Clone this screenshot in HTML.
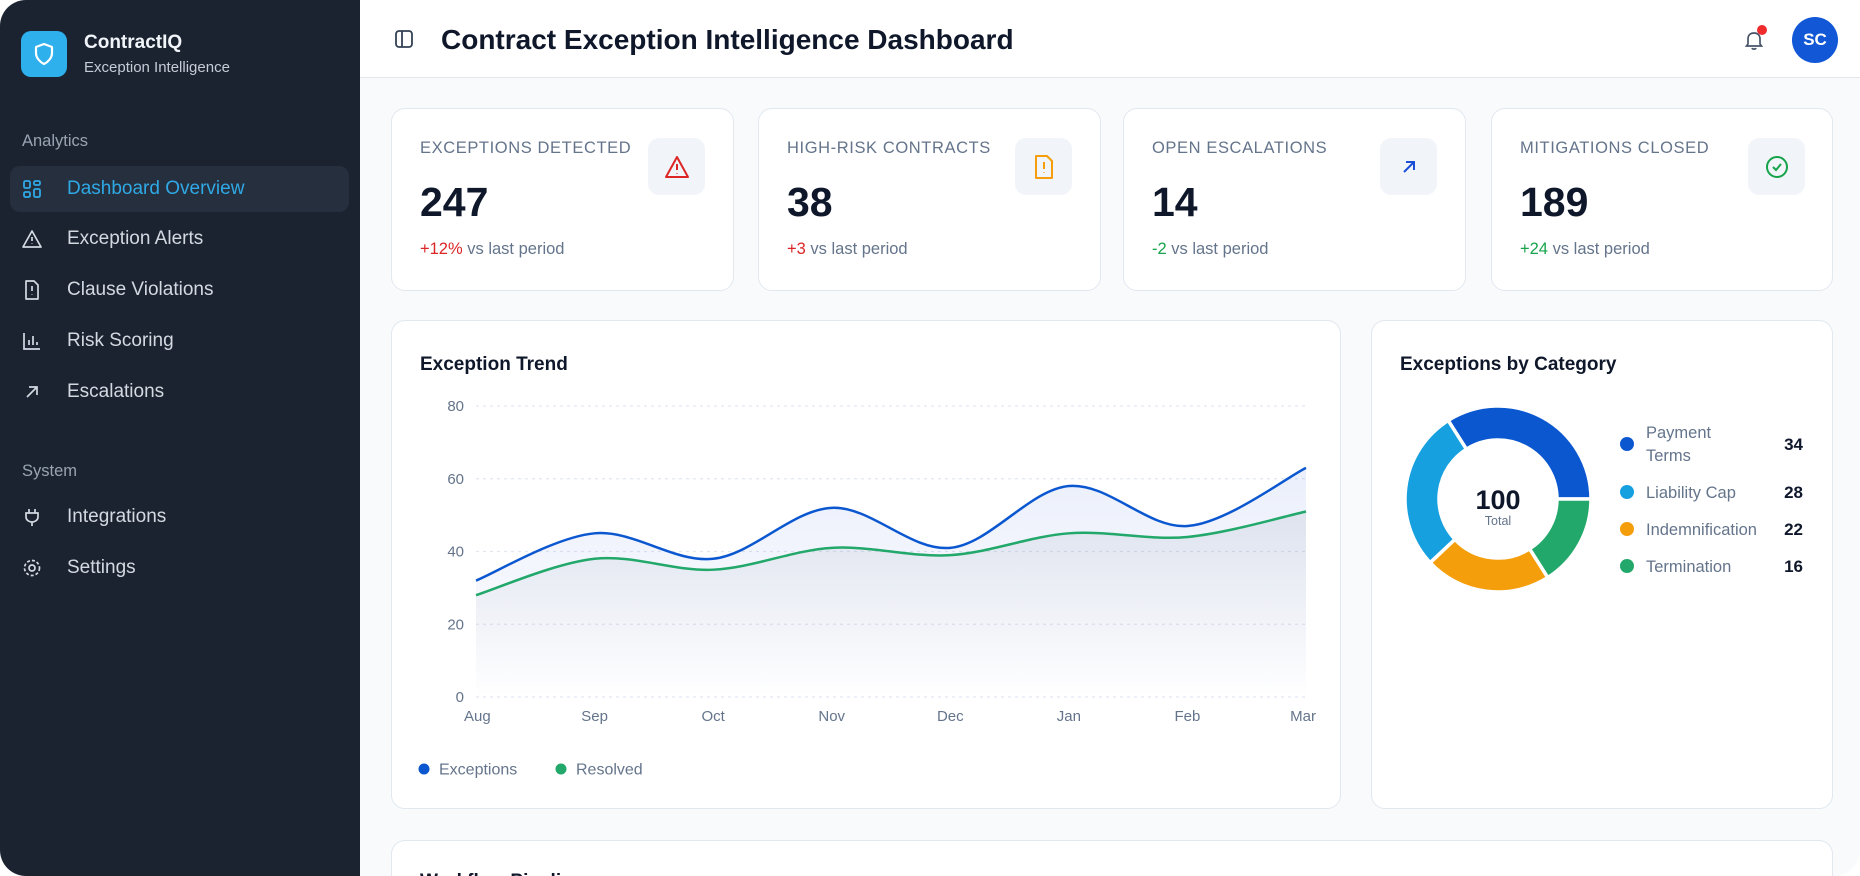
<!DOCTYPE html>
<html><head><meta charset="utf-8">
<style>
*{box-sizing:border-box;margin:0;padding:0}
body{width:1860px;height:876px;background:#fff;font-family:"Liberation Sans",sans-serif;overflow:hidden;position:relative}
#frame{position:absolute;left:0;top:0;width:1860px;height:876px;border-radius:26px;overflow:hidden;background:#f8fafc}
#side{position:absolute;left:0;top:0;width:360px;height:876px;background:#1b2330}
.abs{position:absolute}
.nav{position:absolute;left:10px;width:339px;height:46px;border-radius:10px;color:#d4d9e1;font-size:19px;display:flex;align-items:center;padding-left:57px}
.nav svg{position:absolute;left:12px;top:13px}
.sec{position:absolute;left:22px;color:#9aa3b2;font-size:16.5px}
#header{position:absolute;left:360px;top:0;width:1500px;height:78px;background:#fff;border-bottom:1px solid #e5e7eb}
.card{position:absolute;background:#fff;border:1px solid #e2e8f0;border-radius:14px}
.klabel{position:absolute;left:28px;top:30px;font-size:16.5px;color:#64748b;letter-spacing:0.6px}
.kval{position:absolute;left:28px;top:70px;font-size:41px;font-weight:bold;color:#0f172a}
.ksub{position:absolute;left:28px;top:131px;font-size:16.5px;color:#64748b}
.kicon{position:absolute;left:256px;top:29px;width:57px;height:57px;border-radius:11px;background:#f1f5f9;display:flex;align-items:center;justify-content:center}
.ctitle{position:absolute;left:28px;top:33px;font-size:19px;font-weight:bold;color:#0f172a}
</style></head><body>
<div id="frame">
<div id="side">
  <div class="abs" style="left:21px;top:31px;width:46px;height:46px;border-radius:10px;background:#2eb0ec;display:flex;align-items:center;justify-content:center">
    <svg width="22" height="24" viewBox="0 0 22 24"><path d="M11 2 L19 5 V11 C19 16 15 20 11 22 C7 20 3 16 3 11 V5 Z" fill="none" stroke="#fff" stroke-width="2.2" stroke-linejoin="round"/></svg>
  </div>
  <div class="abs" style="left:84px;top:32px;font-size:19px;font-weight:bold;color:#f1f5f9">ContractIQ</div>
  <div class="abs" style="left:84px;top:59px;font-size:15px;color:#c5ccd6">Exception Intelligence</div>
  <div class="sec" style="top:132px">Analytics</div>
  <div class="nav" style="top:166px;background:#262f3d;color:#2fa9e6">
    <svg width="20" height="20" viewBox="0 0 20 20" fill="none" stroke="#2fa9e6" stroke-width="1.8"><rect x="2" y="2" width="6" height="7" rx="1.5"/><rect x="12" y="2" width="6" height="4" rx="1.5"/><rect x="12" y="10" width="6" height="8" rx="1.5"/><rect x="2" y="13" width="6" height="5" rx="1.5"/></svg>Dashboard Overview</div>
  <div class="nav" style="top:216px">
    <svg width="20" height="20" viewBox="0 0 20 20" fill="none" stroke="#d4d9e1" stroke-width="1.7"><path d="M10 2 L19 18 H1 Z" stroke-linejoin="round"/><path d="M10 8 V12 M10 14.5 V15"/></svg>Exception Alerts</div>
  <div class="nav" style="top:267px">
    <svg width="20" height="20" viewBox="0 0 20 20" fill="none" stroke="#d4d9e1" stroke-width="1.7"><path d="M4 1 H12 L16 5 V19 H4 Z" stroke-linejoin="round"/><path d="M10 6 V11 M10 14 V14.5"/></svg>Clause Violations</div>
  <div class="nav" style="top:318px">
    <svg width="20" height="20" viewBox="0 0 20 20" fill="none" stroke="#d4d9e1" stroke-width="1.7"><path d="M2 2 V18 H18 M7 14 V9 M11 14 V5 M15 14 V11"/></svg>Risk Scoring</div>
  <div class="nav" style="top:369px">
    <svg width="20" height="20" viewBox="0 0 20 20" fill="none" stroke="#d4d9e1" stroke-width="1.7"><path d="M5 15 L15 5 M7 5 H15 V13"/></svg>Escalations</div>
  <div class="sec" style="top:462px">System</div>
  <div class="nav" style="top:494px">
    <svg width="20" height="20" viewBox="0 0 20 20" fill="none" stroke="#d4d9e1" stroke-width="1.7"><path d="M7 2 V6 M13 2 V6 M4 6 H16 V10 C16 13 13 15 10 15 C7 15 4 13 4 10 Z M10 15 V19"/></svg>Integrations</div>
  <div class="nav" style="top:545px">
    <svg width="20" height="20" viewBox="0 0 20 20" fill="none" stroke="#d4d9e1" stroke-width="1.7"><circle cx="10" cy="10" r="3"/><circle cx="10" cy="10" r="7.5" stroke-dasharray="3 2"/></svg>Settings</div>
</div>

<div id="header">
  <svg class="abs" style="left:34px;top:29px" width="20" height="20" viewBox="0 0 20 20" fill="none" stroke="#334155" stroke-width="1.8"><rect x="2" y="2" width="16" height="16" rx="3"/><path d="M8 2 V18"/></svg>
  <div class="abs" style="left:81px;top:24px;font-size:28px;font-weight:bold;color:#0f172a">Contract Exception Intelligence Dashboard</div>
  <svg class="abs" style="left:1383px;top:29px" width="22" height="22" viewBox="0 0 22 22" fill="none" stroke="#475569" stroke-width="1.7"><path d="M5 15 V10 C5 6 7.5 4 11 4 C14.5 4 17 6 17 10 V15 L18.5 17 H3.5 Z M9 19 C9.5 20.5 12.5 20.5 13 19"/></svg>
  <div class="abs" style="left:1397px;top:25px;width:10px;height:10px;border-radius:50%;background:#ef2b2b"></div>
  <div class="abs" style="left:1432px;top:17px;width:46px;height:46px;border-radius:50%;background:#1257d6;color:#fff;font-size:17px;font-weight:bold;display:flex;align-items:center;justify-content:center">SC</div>
</div>

<div class="card" style="left:391px;top:108px;width:343px;height:183px">
  <div class="klabel">EXCEPTIONS DETECTED</div><div class="kval">247</div>
  <div class="ksub"><span style="color:#dc2626">+12%</span> vs last period</div>
  <div class="kicon"><svg width="26" height="24" viewBox="0 0 26 24" fill="none" stroke="#dc2626" stroke-width="2"><path d="M13 2 L24 22 H2 Z" stroke-linejoin="round"/><path d="M13 9 V15 M13 18 V18.5"/></svg></div>
</div>
<div class="card" style="left:758px;top:108px;width:343px;height:183px">
  <div class="klabel">HIGH-RISK CONTRACTS</div><div class="kval">38</div>
  <div class="ksub"><span style="color:#dc2626">+3</span> vs last period</div>
  <div class="kicon"><svg width="22" height="26" viewBox="0 0 22 26" fill="none" stroke="#f59e0b" stroke-width="2"><path d="M3 2 H14 L19 7 V24 H3 Z" stroke-linejoin="round"/><path d="M11 8 V15 M11 18 V18.5"/></svg></div>
</div>
<div class="card" style="left:1123px;top:108px;width:343px;height:183px">
  <div class="klabel">OPEN ESCALATIONS</div><div class="kval">14</div>
  <div class="ksub"><span style="color:#16a34a">-2</span> vs last period</div>
  <div class="kicon"><svg width="20" height="20" viewBox="0 0 20 20" fill="none" stroke="#1d4ed8" stroke-width="2"><path d="M5 15 L15 5 M7 5 H15 V13"/></svg></div>
</div>
<div class="card" style="left:1491px;top:108px;width:342px;height:183px">
  <div class="klabel">MITIGATIONS CLOSED</div><div class="kval">189</div>
  <div class="ksub"><span style="color:#16a34a">+24</span> vs last period</div>
  <div class="kicon"><svg width="26" height="26" viewBox="0 0 26 26" fill="none" stroke="#16a34a" stroke-width="2"><circle cx="13" cy="13" r="10"/><path d="M9 13 L12 16 L17 10"/></svg></div>
</div>

<div class="card" style="left:391px;top:320px;width:950px;height:489px">
  <div class="ctitle">Exception Trend</div>
</div>
<svg id="trend" class="abs" style="left:0;top:0" width="1860" height="876"></svg>

<div class="card" style="left:1371px;top:320px;width:462px;height:489px">
  <div class="ctitle">Exceptions by Category</div>
</div>
<svg id="donut" class="abs" style="left:0;top:0" width="1860" height="876"></svg>

<div class="card" style="left:391px;top:840px;width:1442px;height:36px;overflow:hidden;border-bottom:none;border-radius:14px 14px 0 0">
  <div class="ctitle" style="top:30px">Workflow Pipeline</div>
</div>
</div>

<script>
const months=["Aug","Sep","Oct","Nov","Dec","Jan","Feb","Mar"];
const exceptionsVals=[32,45,38,52,41,58,47,63];
const resolvedVals=[28,38,35,41,39,45,44,51];
const yTicks=[0,20,40,60,80];
const categories=["Payment Terms","Liability Cap","Indemnification","Termination"];
const categoryVals=[34,28,22,16];
const categoryColors=["#0b57d0","#16a0e0","#f59e0b","#22a86a"];

const NS="http://www.w3.org/2000/svg";
function mk(tag,attrs,parent){const e=document.createElementNS(NS,tag);for(const k in attrs)e.setAttribute(k,attrs[k]);parent.appendChild(e);return e;}
const tr=document.getElementById('trend');
const x0=476,x1=1306,yTop=406,yBot=697,yMax=80;
const xs=i=>x0+(x1-x0)*i/(months.length-1);
const ys=v=>yBot-(yBot-yTop)*v/yMax;
const defs=mk('defs',{},tr);
const g1=mk('linearGradient',{id:'gE',x1:0,y1:0,x2:0,y2:1},defs);
mk('stop',{offset:'0','stop-color':'#1d4ed8','stop-opacity':'0.09'},g1);mk('stop',{offset:'1','stop-color':'#1d4ed8','stop-opacity':'0'},g1);
const g2=mk('linearGradient',{id:'gR',x1:0,y1:0,x2:0,y2:1},defs);
mk('stop',{offset:'0','stop-color':'#64748b','stop-opacity':'0.12'},g2);mk('stop',{offset:'1','stop-color':'#64748b','stop-opacity':'0'},g2);
yTicks.forEach(t=>{
  const l=mk('line',{x1:x0,x2:x1,y1:ys(t),y2:ys(t),stroke:'#e2e8f0','stroke-dasharray':'3 4','stroke-width':1.2},tr);
  
  
  const tx=mk('text',{x:x0-12,y:ys(t)+5,'text-anchor':'end','font-size':15,fill:'#64748b'},tr);tx.textContent=t;
  
  
});
months.forEach((m,i)=>{
  const tx=mk('text',{x:xs(i),y:721,'text-anchor':i==months.length-1?'end':(i==0?'start':'middle'),'font-size':15,fill:'#64748b'},tr);
  if(i==0)tx.setAttribute('x',xs(i)-12);
  if(i==months.length-1)tx.setAttribute('x',xs(i)+10);
  tx.textContent=m;
  
  
});
function curve(vals){
  const p=vals.map((v,i)=>[xs(i),ys(v)]);
  let d=`M${p[0][0]},${p[0][1]}`;
  for(let i=0;i<p.length-1;i++){
    const a=p[Math.max(0,i-1)],b=p[i],c=p[i+1],e=p[Math.min(p.length-1,i+2)];
    const c1=[b[0]+(c[0]-a[0])/6,b[1]+(c[1]-a[1])/6],c2=[c[0]-(e[0]-b[0])/6,c[1]-(e[1]-b[1])/6];
    d+=` C${c1[0]},${c1[1]} ${c2[0]},${c2[1]} ${c[0]},${c[1]}`;
  }
  return d;
}
const ae=mk('path',{d:curve(exceptionsVals)+` L${x1},${yBot} L${x0},${yBot} Z`,fill:'url(#gE)'},tr);


const ar=mk('path',{d:curve(resolvedVals)+` L${x1},${yBot} L${x0},${yBot} Z`,fill:'url(#gR)'},tr);


const le=mk('path',{d:curve(exceptionsVals),fill:'none',stroke:'#0b57d0','stroke-width':2.5},tr);


const lr=mk('path',{d:curve(resolvedVals),fill:'none',stroke:'#22a86a','stroke-width':2.5},tr);


[["Exceptions","#0b57d0",424],["Resolved","#22a86a",561]].forEach(([n,c,x])=>{
  const g=mk('g',{},tr);
  
  
  mk('circle',{cx:x,cy:769,r:5.5,fill:c},g);
  const t=mk('text',{x:x+15,y:774.5,'font-size':16,fill:'#64748b'},g);t.textContent=n;
});

const dn=document.getElementById('donut');
const cx=1498,cy=499,R=93,r=59;
const total=categoryVals.reduce((a,b)=>a+b,0);
let ang=0;
function pt(rad,a){return [cx+rad*Math.cos(a),cy+rad*Math.sin(a)];}
categoryVals.forEach((v,i)=>{
  const sweep=v/total*2*Math.PI;
  const a0=ang,a1=ang-sweep;
  const large=sweep>Math.PI?1:0;
  const p0=pt(R,a0),p1=pt(R,a1),p2=pt(r,a1),p3=pt(r,a0);
  const s=mk('path',{d:`M${p0} A${R},${R} 0 ${large} 0 ${p1} L${p2} A${r},${r} 0 ${large} 1 ${p3} Z`,fill:categoryColors[i],stroke:'#fff','stroke-width':3.5,'stroke-linejoin':'round'},dn);
  
  
  ang=a1;
});
const tt=mk('text',{x:cx,y:cy+10,'text-anchor':'middle','font-size':27,'font-weight':'bold',fill:'#0f172a'},dn);tt.textContent=total;


const tl=mk('text',{x:cx,y:cy+26,'text-anchor':'middle','font-size':12.5,fill:'#64748b'},dn);tl.textContent='Total';


const rowY=[444,492,529,566];
categories.forEach((c,i)=>{
  const g=mk('g',{},dn);
  
  
  mk('circle',{cx:1627,cy:rowY[i],r:7,fill:categoryColors[i]},g);
  const words=c.split(' ');
  if(i==0){
    const a=mk('text',{x:1646,y:rowY[i]-6,'font-size':16.5,fill:'#64748b'},g);a.textContent=words[0];
    const b=mk('text',{x:1646,y:rowY[i]+17,'font-size':16.5,fill:'#64748b'},g);b.textContent=words[1];
  } else {
    const a=mk('text',{x:1646,y:rowY[i]+6,'font-size':16.5,fill:'#64748b'},g);a.textContent=c;
  }
  const v=mk('text',{x:1803,y:rowY[i]+6,'text-anchor':'end','font-size':17,'font-weight':'bold',fill:'#0f172a'},g);v.textContent=categoryVals[i];
});
</script>
</body></html>
